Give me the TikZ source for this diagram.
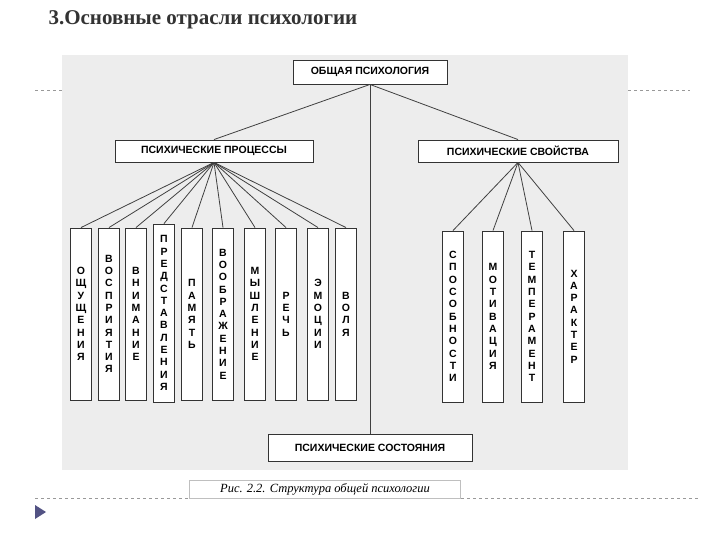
\documentclass[tikz,border=0pt]{standalone}
\usepackage{fontspec}
\setmainfont{Liberation Serif}
\newfontfamily\dsans{Liberation Sans}
\begin{document}
\begin{tikzpicture}[x=1pt,y=-1pt,
  hbox/.style={draw=black!80,line width=0.9pt,fill=white,inner sep=0pt,font=\dsans\bfseries\fontsize{10.5}{10.5}\selectfont},
  vbox/.style={draw=black!80,line width=0.9pt,fill=white,inner sep=0pt,minimum width=21pt,align=center,font=\dsans\bfseries\fontsize{10.5}{12.3}\selectfont},
  link/.style={black!75,line width=0.8pt}]
\useasboundingbox (0,0) rectangle (720,540);
\fill[white] (0,0) rectangle (720,540);
\fill[black!7] (62,55) rectangle (628,470);
\node[anchor=west,font=\bfseries\fontsize{21}{22}\selectfont,text=black!80] (title) at (45,20) {3.Основные отрасли психологии};
\draw[black!40,dashed] (35,90) -- (62,90);
\draw[black!40,dashed] (628,90) -- (690,90);
\draw[black!40,dashed] (35,498) -- (700,498);
\fill[black!45!blue!35!gray] (35,505) -- (46,512) -- (35,519) -- cycle;

\node[hbox,minimum width=154pt,minimum height=24pt] (gen) at (370,72) {ОБЩАЯ ПСИХОЛОГИЯ};
\node[hbox,minimum width=198pt,minimum height=22pt] (proc) at (214,151) {ПСИХИЧЕСКИЕ ПРОЦЕССЫ};
\node[hbox,minimum width=200pt,minimum height=22pt] (prop) at (518,151) {ПСИХИЧЕСКИЕ СВОЙСТВА};
\node[hbox,minimum width=204pt,minimum height=27pt] (state) at (370,448) {ПСИХИЧЕСКИЕ СОСТОЯНИЯ};

\draw[link] (gen.south) -- (proc.north);
\draw[link] (gen.south) -- (prop.north);
\draw[link] (gen.south) -- (state.north);

\foreach \n/\x/\t in {p1/81/{О\\Щ\\У\\Щ\\Е\\Н\\И\\Я},
  p2/109/{В\\О\\С\\П\\Р\\И\\Я\\Т\\И\\Я},
  p3/136/{В\\Н\\И\\М\\А\\Н\\И\\Е},
  p5/192/{П\\А\\М\\Я\\Т\\Ь},
  p6/223/{В\\О\\О\\Б\\Р\\А\\Ж\\Е\\Н\\И\\Е},
  p7/255/{М\\Ы\\Ш\\Л\\Е\\Н\\И\\Е},
  p8/286/{Р\\Е\\Ч\\Ь},
  p9/318/{Э\\М\\О\\Ц\\И\\И},
  p10/346/{В\\О\\Л\\Я}}{
  \node[vbox,minimum height=172pt] (\n) at (\x,314) {\t};
  \draw[link] (proc.south) -- (\n.north);
}
\node[vbox,minimum height=178pt] (p4) at (164,313) {П\\Р\\Е\\Д\\С\\Т\\А\\В\\Л\\Е\\Н\\И\\Я};
\draw[link] (proc.south) -- (p4.north);

\foreach \n/\x/\t in {s1/453/{С\\П\\О\\С\\О\\Б\\Н\\О\\С\\Т\\И},
  s2/493/{М\\О\\Т\\И\\В\\А\\Ц\\И\\Я},
  s3/532/{Т\\Е\\М\\П\\Е\\Р\\А\\М\\Е\\Н\\Т},
  s4/574/{Х\\А\\Р\\А\\К\\Т\\Е\\Р}}{
  \node[vbox,minimum height=171pt] (\n) at (\x,316.5) {\t};
  \draw[link] (prop.south) -- (\n.north);
}

\node[draw=black!25,fill=white,minimum width=271pt,minimum height=18pt,inner sep=0pt,
  font=\itshape\fontsize{12.5}{12.5}\selectfont] (cap) at (325,489) {Рис. 2.2. Структура общей психологии};
\end{tikzpicture}
\end{document}
